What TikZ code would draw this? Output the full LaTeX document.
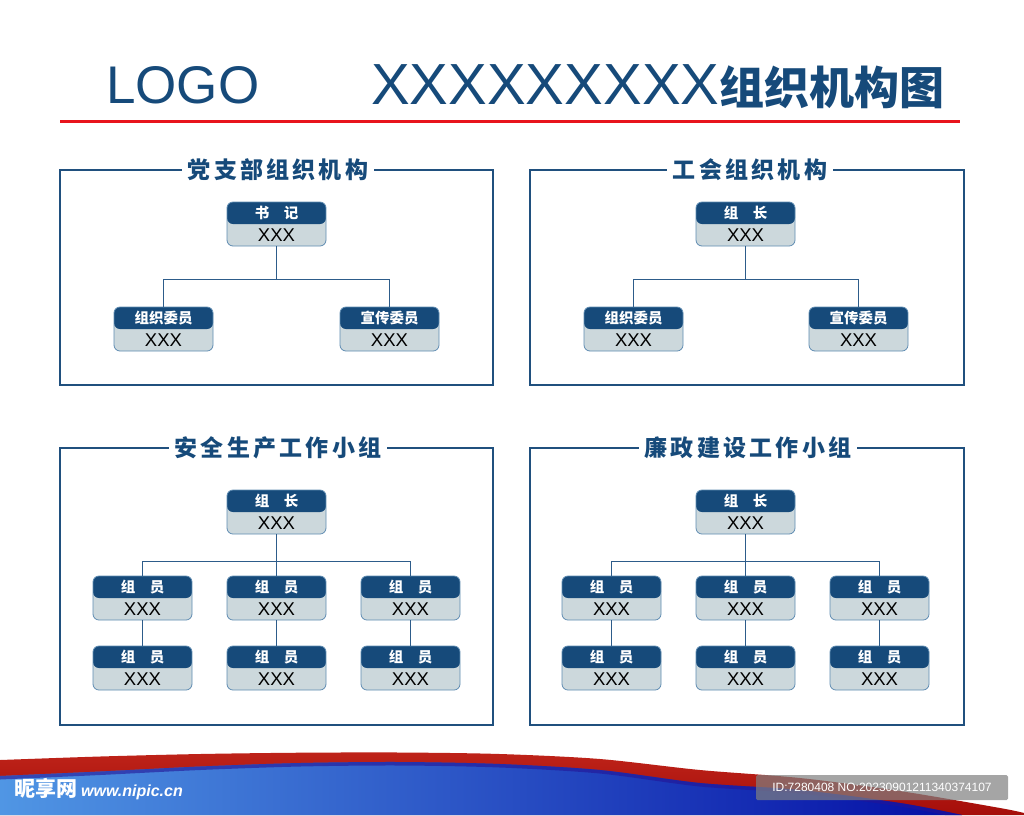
\documentclass[tikz,border=0pt]{standalone}
\usepackage{fontspec}
\setmainfont{Liberation Sans}
\newfontfamily\cjk{Noto Sans CJK SC}
\newfontfamily\cjksp{Noto Sans CJK SC}[LetterSpace=14]
\usetikzlibrary{calc}
\definecolor{navy}{RGB}{22,74,122}
\definecolor{lightbox}{RGB}{204,216,220}
\definecolor{boxedge}{RGB}{95,140,178}
\definecolor{linec}{RGB}{45,92,138}
\definecolor{framec}{RGB}{32,80,126}
\definecolor{redline}{RGB}{232,20,28}
\definecolor{bandred}{RGB}{165,14,10}
\definecolor{bandredhi}{RGB}{190,35,25}
\definecolor{blueL}{RGB}{80,150,228}
\definecolor{blueM}{RGB}{30,62,200}
\definecolor{blueR}{RGB}{4,14,165}
\definecolor{bluedark}{RGB}{35,20,150}
\newcommand{\orgnode}[5]{%
  \node[obox] (#1) at (#2,#3) {};
  \node[lbl] (#1-l) at ($(#1.north)+(0,11)$) {#4};
  \node[val] (#1-v) at ($(#1.south)+(0,-11)$) {#5};
}
\tikzset{
  obox/.style={rectangle, rounded corners=6pt, minimum width=99pt, minimum height=44pt,
    inner sep=0pt, fill=lightbox, draw=boxedge, line width=0.8pt,
    path picture={\fill[navy] (path picture bounding box.north west) rectangle (path picture bounding box.east);}},
  lbl/.style={text=white, font=\cjk\bfseries\fontsize{14.5}{14.5}\selectfont, inner sep=0pt},
  val/.style={text=black, font=\fontsize{18.5}{18.5}\selectfont, inner sep=0pt},
  conn/.style={draw=linec, line width=1.5pt},
  frame/.style={draw=framec, line width=1.5pt},
  ptitle/.style={fill=white, text=navy, inner xsep=6pt, inner ysep=3pt,
    font=\cjksp\bfseries\fontsize{23}{23}\selectfont}
}
\begin{document}
\begin{tikzpicture}[x=1pt,y=-1pt]
\useasboundingbox (0,0) rectangle (1024,815);
\fill[white] (0,0) rectangle (1024,815);

% header
\node[anchor=base west, inner sep=0pt, text=navy, font=\fontsize{53}{53}\selectfont] (logo) at (106,103) {LOGO};
\node[anchor=base west, inner sep=0pt, text=navy] (title) at (371,104)
  {{\fontsize{58}{58}\selectfont XXXXXXXXX}{\cjk\bfseries\fontsize{45}{45}\selectfont 组织机构图}};
\coordinate (rl1) at (60,121);
\coordinate (rl2) at (960,121);
\draw[redline, line width=3pt] (rl1) -- (rl2);

% panel frames
\draw[frame] (60,170) rectangle (493,385);
\draw[frame] (530,170) rectangle (964,385);
\draw[frame] (60,448) rectangle (493,725);
\draw[frame] (530,448) rectangle (964,725);
\node[ptitle] (t1) at (278,170) {党支部组织机构};
\node[ptitle] (t2) at (750,170) {工会组织机构};
\node[ptitle] (t3) at (278,448) {安全生产工作小组};
\node[ptitle] (t4) at (748,448) {廉政建设工作小组};

% panel 1
\orgnode{p1a}{276.5}{224}{书\quad 记}{XXX}
\orgnode{p1b}{163.5}{329}{组织委员}{XXX}
\orgnode{p1c}{389.5}{329}{宣传委员}{XXX}
\coordinate (p1j) at ($(p1a.south)+(0,33)$);
\draw[conn] (p1a.south) -- (p1j);
\draw[conn] (p1b.north) |- (p1j) -| (p1c.north);

% panel 2
\orgnode{p2a}{745.5}{224}{组\quad 长}{XXX}
\orgnode{p2b}{633.5}{329}{组织委员}{XXX}
\orgnode{p2c}{858.5}{329}{宣传委员}{XXX}
\coordinate (p2j) at ($(p2a.south)+(0,33)$);
\draw[conn] (p2a.south) -- (p2j);
\draw[conn] (p2b.north) |- (p2j) -| (p2c.north);

% panel 3
\orgnode{p3a}{276.5}{512}{组\quad 长}{XXX}
\orgnode{p3b}{142.5}{598}{组\quad 员}{XXX}
\orgnode{p3c}{276.5}{598}{组\quad 员}{XXX}
\orgnode{p3d}{410.5}{598}{组\quad 员}{XXX}
\orgnode{p3e}{142.5}{668}{组\quad 员}{XXX}
\orgnode{p3f}{276.5}{668}{组\quad 员}{XXX}
\orgnode{p3g}{410.5}{668}{组\quad 员}{XXX}
\coordinate (p3j) at ($(p3a.south)+(0,27)$);
\draw[conn] (p3a.south) -- (p3c.north);
\draw[conn] (p3b.north) |- (p3j) -| (p3d.north);
\draw[conn] (p3b.south) -- (p3e.north);
\draw[conn] (p3c.south) -- (p3f.north);
\draw[conn] (p3d.south) -- (p3g.north);

% panel 4
\orgnode{p4a}{745.5}{512}{组\quad 长}{XXX}
\orgnode{p4b}{611.5}{598}{组\quad 员}{XXX}
\orgnode{p4c}{745.5}{598}{组\quad 员}{XXX}
\orgnode{p4d}{879.5}{598}{组\quad 员}{XXX}
\orgnode{p4e}{611.5}{668}{组\quad 员}{XXX}
\orgnode{p4f}{745.5}{668}{组\quad 员}{XXX}
\orgnode{p4g}{879.5}{668}{组\quad 员}{XXX}
\coordinate (p4j) at ($(p4a.south)+(0,27)$);
\draw[conn] (p4a.south) -- (p4c.north);
\draw[conn] (p4b.north) |- (p4j) -| (p4d.north);
\draw[conn] (p4b.south) -- (p4e.north);
\draw[conn] (p4c.south) -- (p4f.north);
\draw[conn] (p4d.south) -- (p4g.north);

% bottom swoosh
\shade[top color=bandredhi, bottom color=bandred]
  plot[smooth] coordinates {(0,760) (100,756.5) (200,754) (300,752.7) (400,752.5) (500,754) (600,759) (700,770) (800,778) (900,791) (1000,808) (1024,813)}
  -- (1024,815) -- (0,815) -- cycle;
\shade[left color=blueL, middle color=blueM, right color=blueR]
  (0,815) -- plot[smooth] coordinates {(0,776) (100,771.5) (200,766.5) (300,763) (400,762) (500,764) (600,770) (700,783) (800,790) (900,803) (962,815)} -- cycle;
\begin{scope}
  \clip (0,815) -- plot[smooth] coordinates {(0,776) (100,771.5) (200,766.5) (300,763) (400,762) (500,764) (600,770) (700,783) (800,790) (900,803) (962,815)} -- cycle;
  \draw[bluedark, line width=7pt, opacity=0.6] plot[smooth] coordinates {(0,776) (100,771.5) (200,766.5) (300,763) (400,762) (500,764) (600,770) (700,783) (800,790) (900,803) (962,815)};
\end{scope}

% watermarks
\node[anchor=west, inner sep=0pt, text=white] (wm1) at (14,789)
  {{\cjk\bfseries\fontsize{21}{21}\selectfont 昵享网}\hspace{4pt}{\bfseries\itshape\fontsize{16}{16}\selectfont www.nipic.cn}};
\fill[gray, opacity=0.7, rounded corners=1.5pt] (756,775) rectangle (1008,800);
\node[inner sep=0pt, text=white, font=\fontsize{12}{12}\selectfont] (wm2) at (882,787.5) {ID:7280408 NO:20230901211340374107};
\end{tikzpicture}
\end{document}
